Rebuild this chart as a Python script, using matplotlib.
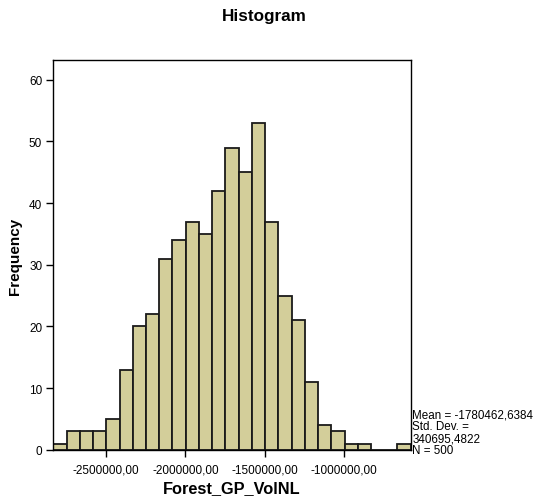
import matplotlib
matplotlib.use("Agg")
import matplotlib.pyplot as plt
import numpy as np

plt.rcParams['font.family'] = ['Liberation Sans', 'DejaVu Sans']

# histogram counts (27 bins)
counts = [1, 3, 3, 3, 5, 13, 20, 22, 31, 34, 37, 35, 42, 49, 45, 53,
          37, 25, 21, 11, 4, 3, 1, 1, 0, 0, 1]
bin_start = -2832300
bin_width = 83440
xticks = [-2500000, -2000000, -1500000, -1000000]
xtick_labels = ['-2500000,00', '-2000000,00', '-1500000,00', '-1000000,00']
yticks = [0, 10, 20, 30, 40, 50, 60]
stats = 'Mean = -1780462,6384\nStd. Dev. =\n340695,4822\nN = 500'

edges = bin_start + bin_width * np.arange(len(counts) + 1)

fig = plt.figure(figsize=(5.36, 5.02), dpi=100)
ax = fig.add_axes([0.0995, 0.102, 0.6667, 0.7765])

ax.bar(edges[:-1], counts, width=bin_width, align='edge',
       color='#D3CE9A', edgecolor='#1a1a1a', linewidth=1.3)

ax.set_xlim(edges[0], edges[-1])
ax.set_ylim(0, 63.2)
ax.set_xticks(xticks)
ax.set_xticklabels(xtick_labels, fontsize=8.5)
ax.set_yticks(yticks)
ax.set_yticklabels([str(v) for v in yticks], fontsize=8.5)
ax.tick_params(direction='out', length=5, width=1, pad=3)
ax.tick_params(axis='x', pad=5)
for s in ax.spines.values():
    s.set_linewidth(1)

ax.set_xlabel('Forest_GP_VolNL', fontsize=11.8, fontweight='bold', labelpad=3)
ax.set_ylabel('Frequency', fontsize=11, fontweight='bold', labelpad=5)
fig.text(0.494, 0.967, 'Histogram', ha='center', va='center',
         fontsize=12.3, fontweight='bold')

fig.text(0.769, 0.089, stats, ha='left', va='bottom', fontsize=8.4,
         linespacing=1.0)

fig.savefig('out.png', dpi=100)
